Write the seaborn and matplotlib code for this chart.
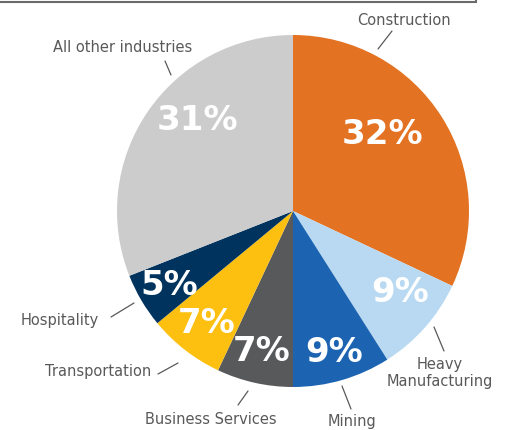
import numpy as np
import matplotlib
matplotlib.use("Agg")
import matplotlib.pyplot as plt
import seaborn as sns
from matplotlib.patches import Rectangle

categories = ["Construction", "Heavy\nManufacturing", "Mining", "Business Services",
              "Transportation", "Hospitality", "All other industries"]
shares = [32, 9, 9, 7, 7, 5, 31]
colors = ["#E37222", "#B8D9F1", "#1C64B1", "#58595B", "#FDC010", "#00345F", "#CCCCCC"]

sns.set_theme(style="white")
plt.rcParams['font.family'] = ['DejaVu Sans']

W, H = 505, 431
fig = plt.figure(figsize=(W / 100, H / 100), dpi=100)
ax = fig.add_axes([0, 0, 1, 1])

def py(y):
    return H - y

cx, cy, R = 293, py(212), 176
wedges, _ = ax.pie(shares, colors=colors, startangle=90, counterclock=False,
                   center=(cx, cy), radius=R, wedgeprops=dict(linewidth=0),
                   frame=True)
ax.set_xlim(0, W)
ax.set_ylim(0, H)
ax.set_aspect('equal')
ax.axis('off')

# percentage labels
pct_r = [0.67, 0.76, 0.83, 0.81, 0.80, 0.82, 0.75]
pct_dang = [8.5, 4.4, 0, 0, 0, 0, -9.6]
for w, s, r, da in zip(wedges, shares, pct_r, pct_dang):
    ang = np.deg2rad((w.theta1 + w.theta2) / 2 + da)
    ax.text(cx + r * R * np.cos(ang), cy + r * R * np.sin(ang), f"{s}%",
            ha='center', va='center', color='white', fontsize=24.5, fontweight='bold')

# outer labels and leader lines (layout, pixel coords)
label_pos = [(404, 20), (440, 373), (352, 422), (211, 420), (98, 372), (60, 320), (123, 47)]
leaders = [((378, 50), (392, 32)), ((434, 328), (444, 352)), ((342, 387), (351, 410)),
           ((238, 406), (248, 392)), ((158, 375), (178, 364)), ((111, 318), (134, 304)),
           ((165, 62), (171, 76))]
for cat, (x, y), (p0, p1) in zip(categories, label_pos, leaders):
    ax.text(x, py(y), cat, ha='center', va='center', color='#595959', fontsize=10.5,
            linespacing=1.1)
    ax.plot([p0[0], p1[0]], [py(p0[1]), py(p1[1])], color='#595959', lw=0.9)

# top frame remnant
ax.add_patch(Rectangle((-5, py(3)), 481, 20, fill=False, edgecolor='#6B6B6B', lw=1.5,
                       clip_on=True))

fig.savefig("out.png", dpi=100)
